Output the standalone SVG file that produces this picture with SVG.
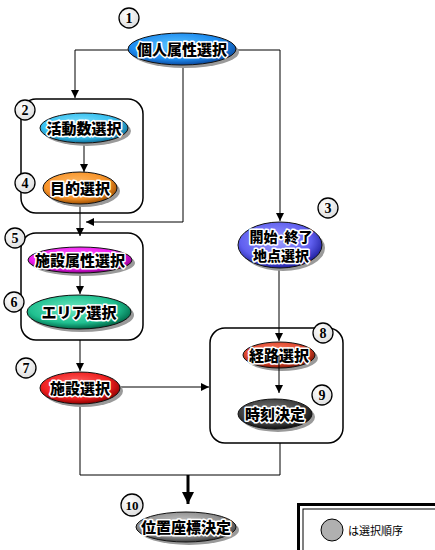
<svg xmlns="http://www.w3.org/2000/svg" width="435" height="550" viewBox="0 0 435 550">
<style>
.box{fill:none;stroke:#000;stroke-width:1.5}
.ln{fill:none;stroke:#000;stroke-width:1}
.ell{stroke:#111;stroke-width:1}
.sh{fill:#9a9a9a}
.lbl{font-family:"Noto Sans CJK JP","Noto Sans",sans-serif;font-weight:900;font-size:15px;fill:#000;stroke:#fff;stroke-width:3px;paint-order:stroke;stroke-linejoin:round;text-anchor:middle}
.num circle{fill:url(#gNum);stroke:#000;stroke-width:1.3}
.num text{font-family:"Liberation Serif",serif;font-weight:bold;font-size:14px;text-anchor:middle;fill:#000}
</style>
<defs>
<marker id="ah" viewBox="0 0 10 10" refX="10" refY="5" markerWidth="8" markerHeight="8" markerUnits="userSpaceOnUse" orient="auto">
<path d="M0,0L10,5L0,10z" fill="#000"/>
</marker>
<marker id="ahb" viewBox="0 0 10 10" refX="10" refY="5" markerWidth="4" markerHeight="4" orient="auto">
<path d="M0,0L10,5L0,10z" fill="#000"/>
</marker>
<radialGradient id="gNum" cx="0.4" cy="0.35" r="0.7"><stop offset="0" stop-color="#fff"/><stop offset="1" stop-color="#dcdcdc"/></radialGradient>
<radialGradient id="gBlue" cx="0.45" cy="0.4" r="0.6"><stop offset="0" stop-color="#60c8ff"/><stop offset="0.7" stop-color="#1e8cf0"/><stop offset="1" stop-color="#0a4aa0"/></radialGradient>
<radialGradient id="gCyan" cx="0.45" cy="0.4" r="0.6"><stop offset="0" stop-color="#90e8ff"/><stop offset="0.7" stop-color="#38c0f0"/><stop offset="1" stop-color="#10709a"/></radialGradient>
<radialGradient id="gOrange" cx="0.45" cy="0.4" r="0.6"><stop offset="0" stop-color="#ffc070"/><stop offset="0.7" stop-color="#f8942a"/><stop offset="1" stop-color="#a05000"/></radialGradient>
<radialGradient id="gMag" cx="0.45" cy="0.4" r="0.6"><stop offset="0" stop-color="#ff80ff"/><stop offset="0.7" stop-color="#f020f0"/><stop offset="1" stop-color="#900090"/></radialGradient>
<radialGradient id="gGreen" cx="0.45" cy="0.4" r="0.6"><stop offset="0" stop-color="#70e8c0"/><stop offset="0.7" stop-color="#20c090"/><stop offset="1" stop-color="#006848"/></radialGradient>
<radialGradient id="gViolet" cx="0.45" cy="0.4" r="0.6"><stop offset="0" stop-color="#a0a0ff"/><stop offset="0.7" stop-color="#6060f0"/><stop offset="1" stop-color="#2020a0"/></radialGradient>
<radialGradient id="gRust" cx="0.45" cy="0.4" r="0.6"><stop offset="0" stop-color="#ff9070"/><stop offset="0.7" stop-color="#e04830"/><stop offset="1" stop-color="#801808"/></radialGradient>
<radialGradient id="gRed" cx="0.45" cy="0.4" r="0.6"><stop offset="0" stop-color="#ff7070"/><stop offset="0.7" stop-color="#f02020"/><stop offset="1" stop-color="#900000"/></radialGradient>
<radialGradient id="gDark" cx="0.45" cy="0.4" r="0.6"><stop offset="0" stop-color="#808080"/><stop offset="0.7" stop-color="#404040"/><stop offset="1" stop-color="#101010"/></radialGradient>
<radialGradient id="gGray" cx="0.45" cy="0.4" r="0.6"><stop offset="0" stop-color="#d0d0d0"/><stop offset="0.7" stop-color="#909090"/><stop offset="1" stop-color="#404040"/></radialGradient>
</defs>

<g id="groups">
<rect id="box-2" class="box" x="21" y="99" width="122" height="114" rx="15"/>
<rect id="box-5" class="box" x="21" y="233" width="122" height="107" rx="15"/>
<rect id="box-8" class="box" x="210" y="328" width="133" height="115" rx="15"/>
</g>

<g id="connectors">
<path class="ln" d="M128,50H75V98" marker-end="url(#ah)"/>
<path class="ln" d="M236,50H280V221" marker-end="url(#ah)"/>
<path class="ln" d="M183,64V222H86" marker-end="url(#ah)"/>
<path class="ln" d="M84,143V172" marker-end="url(#ah)"/>
<path class="ln" d="M80,204V236" marker-end="url(#ah)"/>
<path class="ln" d="M80,273V294" marker-end="url(#ah)"/>
<path class="ln" d="M80,340V371" marker-end="url(#ah)"/>
<path class="ln" d="M120,387H209" marker-end="url(#ah)"/>
<path class="ln" d="M279,268V341" marker-end="url(#ah)"/>
<path class="ln" d="M80,404V475H280V443"/>
<path d="M188,475V504" fill="none" stroke="#000" stroke-width="3" marker-end="url(#ahb)"/>
</g>

<g id="n1">
<ellipse class="sh" cx="185" cy="52" rx="54" ry="16"/>
<ellipse class="ell" cx="182" cy="49" rx="54" ry="16" fill="url(#gBlue)"/>
<text class="lbl" x="182" y="55">個人属性選択</text>
</g>
<g id="n2">
<ellipse class="sh" cx="87" cy="131" rx="44" ry="15"/>
<ellipse class="ell" cx="84" cy="128" rx="44" ry="15" fill="url(#gCyan)"/>
<text class="lbl" x="84" y="134">活動数選択</text>
</g>
<g id="n4">
<ellipse class="sh" cx="83" cy="191" rx="37" ry="16"/>
<ellipse class="ell" cx="80" cy="188" rx="37" ry="16" fill="url(#gOrange)"/>
<text class="lbl" x="80" y="194">目的選択</text>
</g>
<g id="n5">
<ellipse class="sh" cx="83" cy="263" rx="52" ry="13"/>
<ellipse class="ell" cx="80" cy="260" rx="52" ry="13" fill="url(#gMag)"/>
<text class="lbl" x="80" y="266">施設属性選択</text>
</g>
<g id="n6">
<ellipse class="sh" cx="82" cy="315" rx="52" ry="17"/>
<ellipse class="ell" cx="79" cy="312" rx="52" ry="17" fill="url(#gGreen)"/>
<text class="lbl" x="79" y="318">エリア選択</text>
</g>
<g id="n3">
<ellipse class="sh" cx="283" cy="248" rx="42" ry="23"/>
<ellipse class="ell" cx="280" cy="245" rx="42" ry="23" fill="url(#gViolet)"/>
<text class="lbl" x="281" y="242" style="font-size:14px">開始･終了</text>
<text class="lbl" x="281" y="261" style="font-size:14px">地点選択</text>
</g>
<g id="n7">
<ellipse class="sh" cx="83" cy="391" rx="40" ry="16"/>
<ellipse class="ell" cx="80" cy="388" rx="40" ry="16" fill="url(#gRed)"/>
<text class="lbl" x="80" y="394">施設選択</text>
</g>
<g id="n8">
<ellipse class="sh" cx="282" cy="358" rx="36" ry="13"/>
<ellipse class="ell" cx="279" cy="355" rx="36" ry="13" fill="url(#gRust)"/>
<text class="lbl" x="279" y="361">経路選択</text>
<path class="ln" d="M279,355V393" marker-end="url(#ah)"/>
</g>
<g id="n9">
<ellipse class="sh" cx="278" cy="417" rx="37" ry="15"/>
<ellipse class="ell" cx="275" cy="414" rx="37" ry="15" fill="url(#gDark)"/>
<text class="lbl" x="275" y="420">時刻決定</text>
</g>
<g id="n10">
<ellipse class="sh" cx="189" cy="530" rx="50" ry="15"/>
<ellipse class="ell" cx="186" cy="527" rx="50" ry="15" fill="url(#gGray)"/>
<text class="lbl" x="186" y="533">位置座標決定</text>
</g>

<g id="numbers" class="num">
<g><circle cx="129" cy="18" r="10"/><text x="129" y="23">1</text></g>
<g><circle cx="25" cy="110" r="10"/><text x="25" y="115">2</text></g>
<g><circle cx="328" cy="208" r="10"/><text x="328" y="213">3</text></g>
<g><circle cx="25" cy="183" r="10"/><text x="25" y="188">4</text></g>
<g><circle cx="15" cy="238" r="10"/><text x="15" y="243">5</text></g>
<g><circle cx="14" cy="302" r="10"/><text x="14" y="307">6</text></g>
<g><circle cx="26" cy="368" r="10"/><text x="26" y="373">7</text></g>
<g><circle cx="323" cy="333" r="10"/><text x="323" y="338">8</text></g>
<g><circle cx="322" cy="395" r="10"/><text x="322" y="400">9</text></g>
<g><circle cx="132" cy="505" r="11"/><text x="132" y="510" style="font-size:13px">10</text></g>
</g>

<g id="legend">
<rect x="298.5" y="504.5" width="150" height="60" fill="#fff" stroke="#000" stroke-width="3"/>
<rect x="303" y="509" width="140" height="50" fill="none" stroke="#000" stroke-width="1"/>
<circle cx="332" cy="530" r="11" fill="#b0b0b0" stroke="#000" stroke-width="1"/>
<text x="348" y="535" style="font-family:'Noto Sans CJK JP','Noto Sans',sans-serif;font-size:11px">は選択順序</text>
</g>
</svg>
